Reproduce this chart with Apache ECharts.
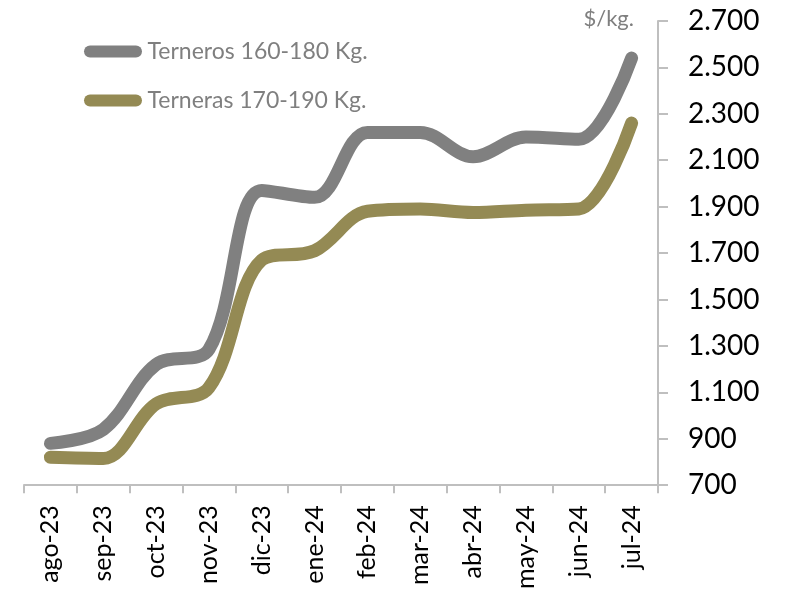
<!DOCTYPE html>
<html>
<head>
<meta charset="utf-8">
<script src="https://cdn.jsdelivr.net/npm/echarts@6/dist/echarts.min.js"></script>
<style>
  html, body { margin: 0; padding: 0; background: #fff; }
  #chart { width: 793px; height: 592px; }
</style>
</head>
<body>
<div id="chart"></div>
<script>
// categorias (meses)
const meses = ['ago-23', 'sep-23', 'oct-23', 'nov-23', 'dic-23', 'ene-24',
  'feb-24', 'mar-24', 'abr-24', 'may-24', 'jun-24', 'jul-24'];

// precios $/kg
const terneros = [880, 940, 1220, 1285, 1970, 1940, 2220, 2220, 2115, 2200, 2190, 2540];
const terneras = [820, 815, 1050, 1120, 1670, 1710, 1880, 1890, 1875, 1885, 1890, 2260];

const ejeMin = 700;
const ejeMax = 2700;
const ejePaso = 200;

const chart = echarts.init(document.getElementById('chart'));

// separador de miles con punto
const fmtMiles = (v) => String(v).replace(/\B(?=(\d{3})+(?!\d))/g, '.');

const iconoLinea = 'path://M6,0 L52,0 A6,6 0 0 1 52,12 L6,12 A6,6 0 0 1 6,0 Z';

chart.setOption({
  backgroundColor: '#ffffff',
  animation: false,
  grid: { left: 24, right: 135, top: 21, bottom: 106 },
  legend: {
    orient: 'vertical',
    left: 79,
    top: 35,
    itemGap: 26,
    itemWidth: 59,
    itemHeight: 12,
    textStyle: { color: '#7f7f7f', fontSize: 23, fontFamily: 'Lato' },
    data: [
      { name: 'Terneros 160-180 Kg.', icon: iconoLinea },
      { name: 'Terneras 170-190 Kg.', icon: iconoLinea }
    ]
  },
  xAxis: {
    type: 'category',
    data: meses,
    boundaryGap: true,
    axisLine: { lineStyle: { color: '#bfbfbf', width: 2 } },
    axisTick: { show: true, length: 8, lineStyle: { color: '#bfbfbf', width: 2 } },
    axisLabel: {
      rotate: 90,
      margin: 20,
      color: '#000',
      fontSize: 25,
      fontFamily: 'Lato'
    }
  },
  yAxis: {
    type: 'value',
    position: 'right',
    min: ejeMin,
    max: ejeMax,
    interval: ejePaso,
    name: '$/kg.',
    nameLocation: 'end',
    nameGap: 2,
    nameTextStyle: {
      color: '#7f7f7f',
      fontSize: 22,
      fontFamily: 'Lato',
      align: 'right',
      verticalAlign: 'middle',
      padding: [0, 24, 0, 0]
    },
    splitLine: { show: false },
    axisLine: { show: true, lineStyle: { color: '#bfbfbf', width: 2 } },
    axisTick: { show: true, length: 10, lineStyle: { color: '#bfbfbf', width: 2 } },
    axisLabel: {
      margin: 30,
      color: '#000',
      fontSize: 28,
      fontFamily: 'Lato',
      formatter: fmtMiles
    }
  },
  series: [
    {
      name: 'Terneros 160-180 Kg.',
      type: 'line',
      data: terneros,
      smooth: 0.35,
      showSymbol: false,
      color: '#808080',
      lineStyle: { width: 13, color: '#808080', cap: 'round', join: 'round' }
    },
    {
      name: 'Terneras 170-190 Kg.',
      type: 'line',
      data: terneras,
      smooth: 0.35,
      showSymbol: false,
      color: '#948a54',
      lineStyle: { width: 13, color: '#948a54', cap: 'round', join: 'round' }
    }
  ]
});
</script>
</body>
</html>
